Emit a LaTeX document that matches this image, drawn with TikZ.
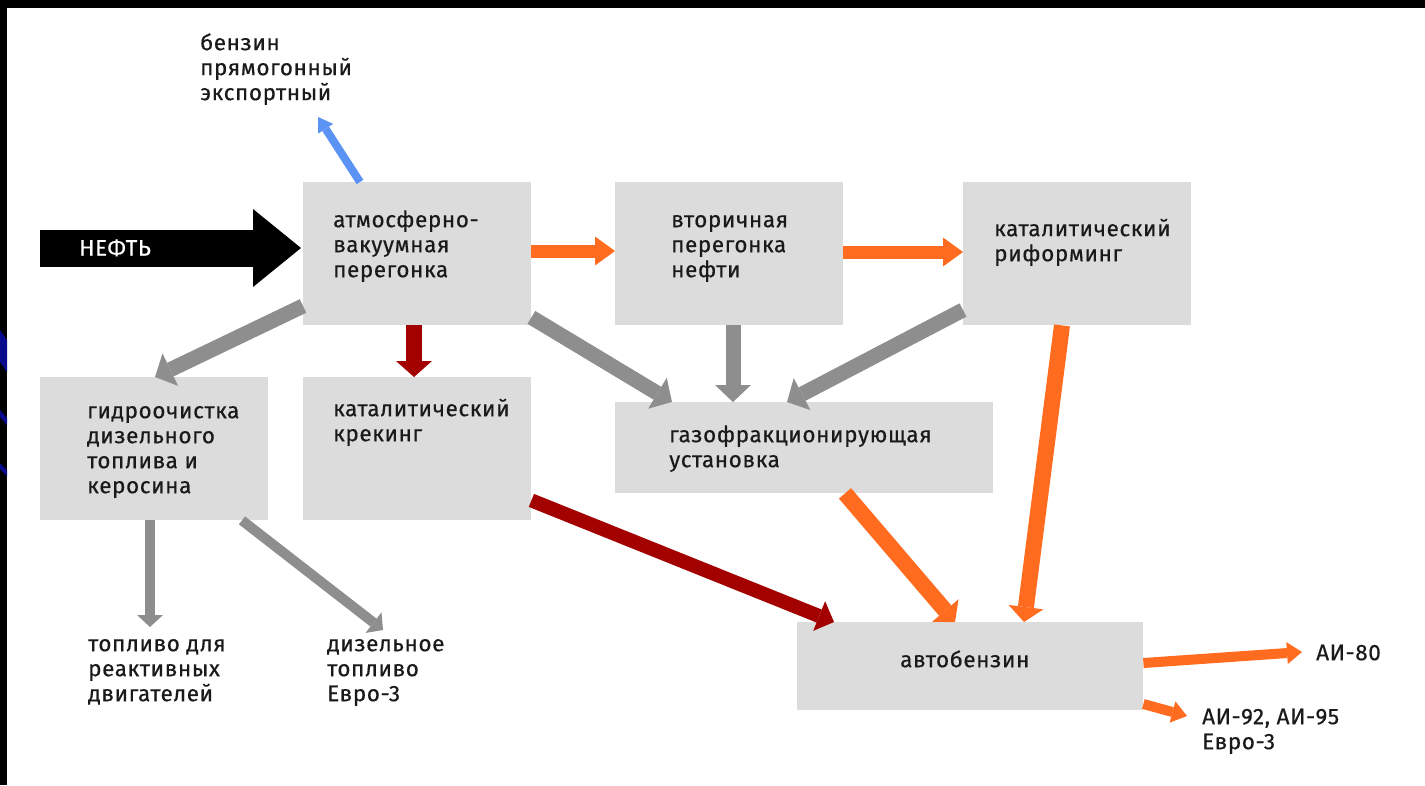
\documentclass[tikz,border=0pt]{standalone}
\usepackage{fontspec}
\setmainfont{Fira Sans}[LetterSpace=2.6, FakeBold=0.4]
\usetikzlibrary{arrows.meta,calc}
\definecolor{boxgray}{HTML}{DCDCDC}
\definecolor{arrgray}{HTML}{8E8E8E}
\definecolor{arrorange}{HTML}{FF6B1F}
\definecolor{arrred}{HTML}{A30000}
\definecolor{arrblue}{HTML}{5B93F5}
\definecolor{txt}{HTML}{1A1A1A}
\definecolor{slideblue}{HTML}{0A0A8C}
\tikzset{
  procbox/.style={fill=boxgray, draw=none, anchor=north west, inner sep=0pt},
  boxtext/.style={anchor=north west, inner sep=0pt, align=left, text=txt,
    font=\fontsize{22.5}{25}\selectfont},
  garrow/.style={draw=arrgray, line width=15pt, -{Triangle[length=17pt,width=36pt,line width=0pt]}},
  gsmall/.style={draw=arrgray, line width=10pt, -{Triangle[length=12pt,width=26pt,line width=0pt]}},
  oarrow/.style={draw=arrorange, line width=16pt, -{Triangle[length=15pt,width=35pt,line width=0pt]}},
  ohoriz/.style={draw=arrorange, line width=13pt, -{Triangle[length=20pt,width=29pt,line width=0pt]}},
  osmall/.style={draw=arrorange, line width=10pt, -{Triangle[length=15pt,width=22pt,line width=0pt]}},
  rarrow/.style={draw=arrred, line width=16pt, -{Triangle[length=16pt,width=36pt,line width=0pt]}},
  rdiag/.style={draw=arrred, line width=14pt, -{Triangle[length=16pt,width=32pt,line width=0pt]}},
  barrow/.style={draw=arrblue, line width=8pt, -{Triangle[length=14pt,width=18pt,line width=0pt]}},
  karrow/.style={draw=black, line width=37pt, -{Triangle[length=48pt,width=78pt,line width=0pt]}},
}
\begin{document}
\begin{tikzpicture}[x=1pt,y=-1pt]
\useasboundingbox (0,0) rectangle (1425,785);
\fill[white] (0,0) rectangle (1425,785);
\fill[black] (0,0) rectangle (1425,8);
\fill[black] (0,0) rectangle (7,785);
\begin{scope}
\clip (0,8) rectangle (7,785);
\fill[slideblue] (0,330) -- (7,340) -- (7,372) -- (0,362) -- cycle;
\fill[slideblue] (0,410) -- (7,418) -- (7,425) -- (0,417) -- cycle;
\fill[slideblue] (0,463) -- (7,470) -- (7,476) -- (0,469) -- cycle;
\end{scope}

% boxes
\node[procbox, minimum width=228pt, minimum height=143pt] (b1) at (303,182) {};
\node[procbox, minimum width=228pt, minimum height=143pt] (b2) at (615,182) {};
\node[procbox, minimum width=228pt, minimum height=143pt] (b3) at (963,182) {};
\node[procbox, minimum width=228pt, minimum height=143pt] (b4) at (40,377) {};
\node[procbox, minimum width=228pt, minimum height=143pt] (b5) at (303,377) {};
\node[procbox, minimum width=378pt, minimum height=91pt] (b6) at (615,402) {};
\node[procbox, minimum width=346pt, minimum height=88pt] (b7) at (797,622) {};

% box texts
\node[boxtext] (t1) at (333,209.5) {\strut атмосферно-\\вакуумная\\перегонка};
\node[boxtext] (t2) at (671,209.5) {\strut вторичная\\перегонка\\нефти};
\node[boxtext] (t3) at (994,218.5) {\strut каталитический\\риформинг};
\node[boxtext] (t4) at (87,400.5) {\strut гидроочистка\\дизельного\\топлива и\\керосина};
\node[boxtext] (t5) at (333,398.5) {\strut каталитический\\крекинг};
\node[boxtext] (t6) at (669,424.5) {\strut газофракционирующая\\установка};
\node[boxtext] (t7) at (900,649.5) {\strut автобензин};

% outside labels
\node[boxtext] (lbenz) at (200,32.5) {\strut бензин\\прямогонный\\экспортный};
\node[boxtext] (ljet) at (88,633.5) {\strut топливо для\\реактивных\\двигателей};
\node[boxtext] (ldiesel) at (327,633.5) {\strut дизельное\\топливо\\Евро-3};
\node[boxtext] (lai80) at (1316,642.5) {\strut АИ-80};
\node[boxtext] (lai92) at (1202,706.5) {\strut АИ-92, АИ-95\\Евро-3};

% free ends
\coordinate (neftstart) at (40,248);
\coordinate (benztip) at (318,117);
\coordinate (jettip) at (150,627);
\coordinate (dieseltip) at (383,630);
\coordinate (ai80tip) at (1302,652);
\coordinate (ai92tip) at (1187,716);

% connectors
\draw[karrow] (neftstart) -- ($(b1.north west)+(-2,66)$);
\node[boxtext, text=white] (lneft) at (79,238) {\strut НЕФТЬ};
\draw[barrow] ($(b1.north west)+(57,0)$) -- (benztip);
\draw[ohoriz] ($(b1.north east)+(0,69)$) -- ($(b2.north west)+(0,69)$);
\draw[ohoriz] ($(b2.north east)+(0,70)$) -- ($(b3.north west)+(0,70)$);
\draw[rarrow] ($(b1.south west)+(111,0)$) -- ($(b5.north west)+(111,0)$);
\draw[garrow] ($(b1.north west)+(0,124)$) -- ($(b4.north west)+(115,0)$);
\draw[garrow] ($(b1.south east)+(0,-8)$) -- ($(b6.north west)+(57,0)$);
\draw[garrow] ($(b2.south west)+(118,0)$) -- ($(b6.north west)+(118,0)$);
\draw[garrow] ($(b3.north west)+(0,128)$) -- ($(b6.north west)+(172,0)$);
\draw[gsmall] ($(b4.south west)+(110,0)$) -- (jettip);
\draw[gsmall] ($(b4.south west)+(202,0)$) -- (dieseltip);
\draw[rdiag] ($(b5.south east)+(0,-20)$) -- ($(b7.north west)+(37,0)$);
\draw[oarrow] ($(b6.south west)+(230,0)$) -- ($(b7.north west)+(158,0)$);
\draw[oarrow] ($(b3.south west)+(99,0)$) -- ($(b7.north west)+(227,0)$);
\draw[osmall] ($(b7.north east)+(0,41)$) -- (ai80tip);
\draw[osmall] ($(b7.north east)+(0,82)$) -- (ai92tip);
\end{tikzpicture}
\end{document}
